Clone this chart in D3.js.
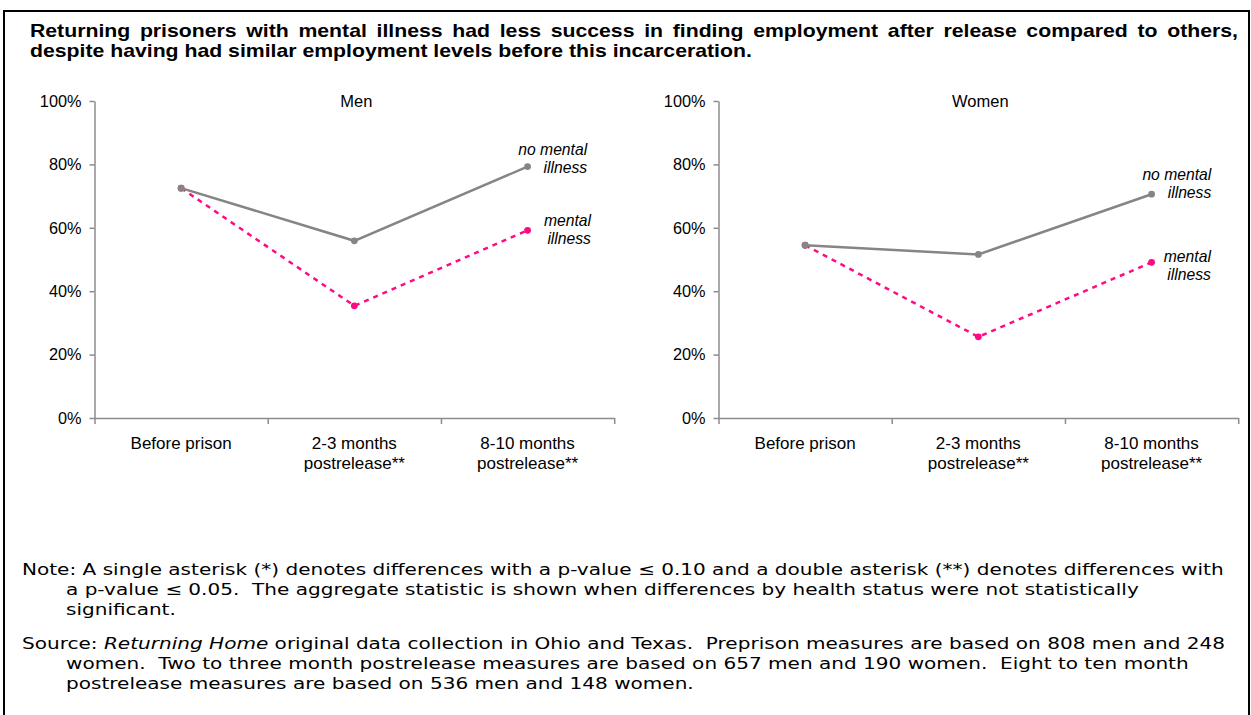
<!DOCTYPE html>
<html>
<head>
<meta charset="utf-8">
<script src="https://cdn.jsdelivr.net/npm/d3@7"></script>
<style>
  body { margin: 0; background: #fff; }
  svg text { font-family: Arial, "Liberation Sans", sans-serif; fill: #000; }
  .note { font-family: "DejaVu Sans", "Noto Sans", sans-serif; white-space: pre; }
</style>
</head>
<body>
<svg id="svg" width="1251" height="715"></svg>
<script>
// chart data
const categories = ["Before prison", "2-3 months|postrelease**", "8-10 months|postrelease**"];
const yTicks = [0, 0.2, 0.4, 0.6, 0.8, 1.0];
const panels = ["Men", "Women"];
const seriesNames = ["no mental|illness", "mental|illness"];
const menNoMI = [0.725, 0.559, 0.793];
const menMI = [0.725, 0.354, 0.592];
const womenNoMI = [0.545, 0.516, 0.706];
const womenMI = [0.545, 0.256, 0.491];

const titleLines = [
    "Returning prisoners with mental illness had less success in finding employment after release compared to others,",
    "despite having had similar employment levels before this incarceration."
];
const noteLines = [
    "Note: A single asterisk (*) denotes differences with a p-value \u2264 0.10 and a double asterisk (**) denotes differences with",
    "a p-value \u2264 0.05.  The aggregate statistic is shown when differences by health status were not statistically",
    "significant."
];
const sourceLines = [
    ["Source: ", "Returning Home", " original data collection in Ohio and Texas.  Preprison measures are based on 808 men and 248"],
    ["women.  Two to three month postrelease measures are based on 657 men and 190 women.  Eight to ten month"],
    ["postrelease measures are based on 536 men and 148 women."]
];

// visual constants
const dims = { width: 1251, height: 715 };
const panelLeft = [94.5, 718.5];
const plotW = 519.7;
const plot = { top: 101, bottom: 418 };
const colors = { noMI: "#858585", MI: "#ff0a84", axis: "#8c8c8c" };
// label offsets from last point [dx, dy of first line]
const labelOffsets = [[[59.6, -12], [63.4, -4]], [[59.7, -14], [59.3, 0]]];

const mySvg = d3.select('#svg');

// frame
mySvg.append('rect')
    .attr('x', 4).attr('y', 11)
    .attr('width', dims.width - 6).attr('height', dims.height)
    .attr('fill', 'none').attr('stroke', '#000').attr('stroke-width', 2);

// TITLE (wide bold face; first line justified word by word)
const titleStretch = 1.18;
const titleX = [30, 1238];
let tg = mySvg.append('g').attr('transform', `scale(${titleStretch},1)`);
let words = titleLines[0].split(' ');
let wordNodes = words.map(w => tg.append('text')
    .attr('y', 37)
    .attr('font-size', 18).attr('font-weight', 'bold')
    .text(w));
let widths = wordNodes.map(n => n.node().getComputedTextLength());
let gap = ((titleX[1] - titleX[0]) / titleStretch - d3.sum(widths)) / (words.length - 1);
let cx = titleX[0] / titleStretch;
wordNodes.forEach((n, i) => { n.attr('x', cx); cx += widths[i] + gap; });

tg.append('text')
    .attr('x', titleX[0] / titleStretch).attr('y', 57)
    .attr('font-size', 18).attr('font-weight', 'bold')
    .text(titleLines[1]);

// PANELS
const yScale = d3.scaleLinear().domain([0, 1]).range([plot.bottom, plot.top]);
const panelData = [[menNoMI, menMI], [womenNoMI, womenMI]];

panels.forEach((name, p) => {
    let g = mySvg.append('g').attr('transform', `translate(${panelLeft[p]},0)`);
    let xScale = d3.scaleBand().domain(categories).range([0, plotW]);
    let edgeScale = d3.scaleLinear().domain([0, categories.length]).range([0, plotW]);
    let getX = (i) => xScale(categories[i]) + xScale.bandwidth() / 2;

    // y axis
    let yAxis = d3.axisLeft(yScale)
        .tickValues(yTicks)
        .tickFormat(d3.format('.0%'))
        .tickSize(5).tickSizeOuter(0).tickPadding(8);
    let ya = g.append('g').call(yAxis);
    ya.select('.domain').attr('stroke', colors.axis).attr('stroke-width', 1.5);
    ya.selectAll('.tick line').attr('stroke', colors.axis).attr('stroke-width', 1.5);
    ya.selectAll('.tick text').attr('font-size', 16.3).attr('font-family', 'Arial, "Liberation Sans", sans-serif').attr('fill', '#000');

    // x axis, ticks on band edges
    let xAxis = d3.axisBottom(edgeScale)
        .tickValues(d3.range(categories.length + 1))
        .tickFormat('')
        .tickSize(6).tickSizeOuter(0);
    let xa = g.append('g').attr('transform', `translate(0, ${plot.bottom})`).call(xAxis);
    xa.select('.domain').attr('stroke', colors.axis).attr('stroke-width', 1.5);
    xa.selectAll('.tick line').attr('stroke', colors.axis).attr('stroke-width', 1.5);

    // category labels
    let cl = g.selectAll('.cat').data(categories).enter().append('text')
        .attr('class', 'cat')
        .attr('text-anchor', 'middle')
        .attr('font-size', 17);
    cl.each(function(d, i) {
        d3.select(this).selectAll('tspan').data(d.split('|')).enter().append('tspan')
            .attr('x', getX(i))
            .attr('y', (t, j) => 449 + j * 20)
            .text(t => t);
    });

    // panel title
    g.append('text')
        .attr('x', plotW / 2 + 2).attr('y', 107)
        .attr('text-anchor', 'middle').attr('font-size', 16.5)
        .text(name);

    // lines: mental illness first (dashed), then no mental illness on top
    let line = d3.line().x((d, i) => getX(i)).y(d => yScale(d));
    let styles = [
        { color: colors.noMI, dash: null },
        { color: colors.MI, dash: '5,5' }
    ];
    [1, 0].forEach(s => {
        let vals = panelData[p][s];
        g.append('path')
            .datum(vals)
            .attr('d', line)
            .attr('fill', 'none')
            .attr('stroke', styles[s].color)
            .attr('stroke-width', 2.5)
            .attr('stroke-dasharray', styles[s].dash);
        g.selectAll('.pt' + s).data(vals).enter().append('circle')
            .attr('class', 'pt' + s)
            .attr('cx', (d, i) => getX(i))
            .attr('cy', d => yScale(d))
            .attr('r', 3.4)
            .attr('fill', styles[s].color);
    });

    // series labels
    seriesNames.forEach((sn, s) => {
        let vals = panelData[p][s];
        let last = vals.length - 1;
        let off = labelOffsets[p][s];
        g.append('text')
            .attr('text-anchor', 'end')
            .attr('font-size', 15.7).attr('font-style', 'italic')
            .selectAll('tspan').data(sn.split('|')).enter().append('tspan')
            .attr('x', getX(last) + off[0])
            .attr('y', (t, j) => yScale(vals[last]) + off[1] + j * 18)
            .text(t => t);
    });
});

// NOTES: face stretched sideways so the first line matches its width
const noteX = [22, 66];
const noteSize = 16;
let probe = mySvg.append('text').attr('class', 'note').attr('font-size', noteSize).text(noteLines[0]);
let noteStretch = (1225 - noteX[0]) / probe.node().getComputedTextLength();
probe.remove();
let ng = mySvg.append('g').attr('transform', `scale(${noteStretch},1)`);

noteLines.forEach((t, i) => {
    ng.append('text').attr('class', 'note')
        .attr('x', (i === 0 ? noteX[0] : noteX[1]) / noteStretch).attr('y', 575 + i * 20)
        .attr('font-size', noteSize)
        .text(t);
});
sourceLines.forEach((parts, i) => {
    let tx = ng.append('text').attr('class', 'note')
        .attr('x', (i === 0 ? noteX[0] : noteX[1]) / noteStretch).attr('y', 649 + i * 20)
        .attr('font-size', noteSize);
    parts.forEach((part, j) => {
        tx.append('tspan')
            .attr('font-style', (i === 0 && j === 1) ? 'italic' : null)
            .text(part);
    });
});
</script>
</body>
</html>
